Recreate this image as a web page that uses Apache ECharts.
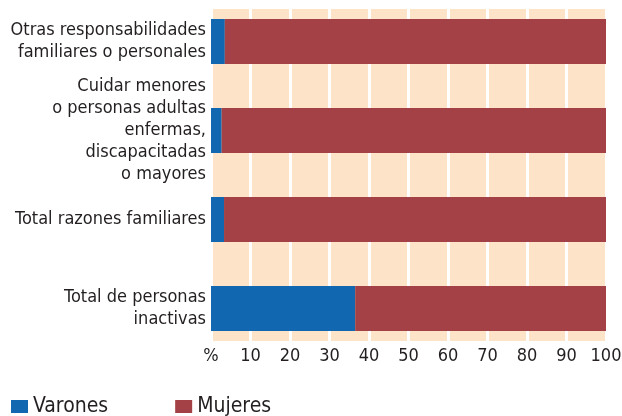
<!DOCTYPE html>
<html>
<head>
<meta charset="utf-8">
<script src="https://cdn.jsdelivr.net/npm/echarts@6/dist/echarts.min.js"></script>
<style>html,body{margin:0;padding:0;background:#fff}#c{width:622px;height:416px}</style>
</head>
<body>
<div id="c"></div>
<script>
var categories = [
  'Otras responsabilidades\nfamiliares o personales',
  'Cuidar menores\no personas adultas\nenfermas,\ndiscapacitadas\no mayores',
  'Total razones familiares',
  'Total de personas\ninactivas'
];
var varones = [3.5, 2.7, 3.3, 36.5];
var mujeres = [96.5, 97.3, 96.7, 63.5];
var tickLabels = ['%', '10', '20', '30', '40', '50', '60', '70', '80', '90', '100'];

var FONT = "'Liberation Sans Narrow', 'DejaVu Sans Condensed', sans-serif";
var chart = echarts.init(document.getElementById('c'), null, {renderer: 'canvas'});
chart.setOption({
  animation: false,
  textStyle: {fontFamily: FONT, color: '#231f20'},
  grid: [
    {left: 211, width: 395, top: 9, height: 332, show: true, backgroundColor: '#fde4c9', borderWidth: 0, outerBoundsMode: 'none'},
    {left: 211, width: 395, top: -3, height: 356, outerBoundsMode: 'none'}
  ],
  legend: {
    data: ['Varones', 'Mujeres'],
    left: 11, top: 396, padding: 0,
    icon: 'rect', itemWidth: 17, itemHeight: 13, itemGap: 67,
    textStyle: {fontFamily: FONT, fontSize: 21, color: '#231f20'}
  },
  xAxis: [
    {gridIndex: 0, type: 'value', min: 0, max: 100, interval: 10,
     axisLine: {show: false}, axisTick: {show: false},
     splitLine: {show: true, lineStyle: {color: '#ffffff', width: 3}},
     axisLabel: {margin: 6, fontSize: 18, color: '#231f20', fontFamily: FONT,
       formatter: function (v) { return tickLabels[Math.round(v / 10)]; }}},
    {gridIndex: 1, type: 'value', min: 0, max: 100, show: false, splitLine: {show: false}}
  ],
  yAxis: [
    {gridIndex: 0, type: 'category', data: [''], show: false},
    {gridIndex: 1, type: 'category', data: categories, inverse: true,
     axisLine: {show: false}, axisTick: {show: false},
     axisLabel: {margin: 5, fontSize: 18, lineHeight: 22, color: '#231f20', fontFamily: FONT, align: 'right'}}
  ],
  series: [
    {name: 'Varones', type: 'bar', stack: 's', xAxisIndex: 1, yAxisIndex: 1, barWidth: 45,
     itemStyle: {color: '#1268b0'}, data: varones},
    {name: 'Mujeres', type: 'bar', stack: 's', xAxisIndex: 1, yAxisIndex: 1, barWidth: 45,
     itemStyle: {color: '#a34146'}, data: mujeres}
  ]
});
</script>
</body>
</html>
